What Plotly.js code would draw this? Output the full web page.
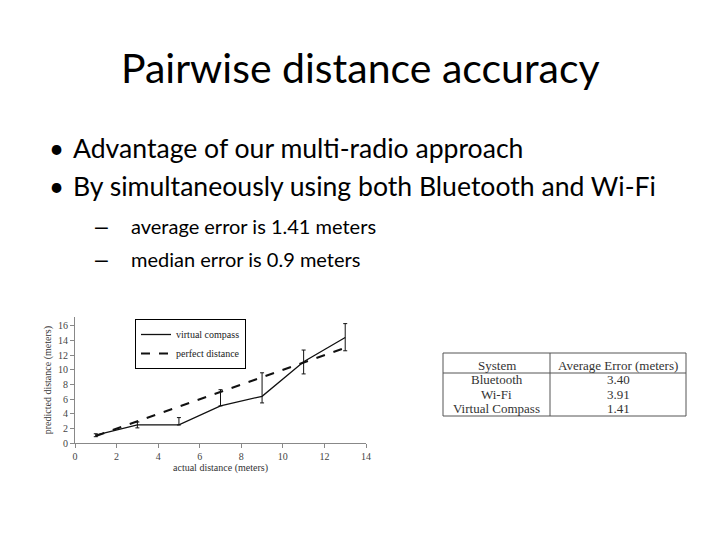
<!DOCTYPE html>
<html>
<head>
<meta charset="utf-8">
<script src="https://cdn.plot.ly/plotly-3.0.1.min.js"></script>
<style>
  html, body { margin: 0; padding: 0; background: #fff; }
  #slide { width: 720px; height: 540px; }
</style>
</head>
<body>
<div id="slide"></div>
<script>
// chart data
var actualDist = [1, 3, 5, 7, 9, 11, 13];
var compassDist = [1.1, 2.5, 2.5, 5.1, 6.4, 11.1, 14.4];
var errPlus = [0.2, 0.4, 1.0, 2.2, 3.2, 1.6, 1.9];
var errMinus = [0.2, 0.4, 0, 0, 0.9, 1.65, 1.8];
var perfectDist = [1, 3, 5, 7, 9, 11, 13];

// table
var tableHeader = ["System", "Average Error (meters)"];
var systems = ["Bluetooth", "Wi-Fi", "Virtual Compass"];
var avgErrors = [3.40, 3.91, 1.41];

var titleText = "Pairwise distance accuracy";
var bullets = ["Advantage of our multi-radio approach",
               "By simultaneously using both Bluetooth and Wi-Fi"];
var subBullets = ["average error is 1.41 meters", "median error is 0.9 meters"];

var W = 720, H = 540;
function px(x) { return x / W; }
function py(y) { return 1 - y / H; }

var textFont = "Lato, 'Open Sans', sans-serif";
var serif = "'Liberation Serif', 'DejaVu Serif', serif";

var compass = {
  x: actualDist, y: compassDist,
  type: "scatter", mode: "lines", name: "virtual compass",
  line: {color: "#111", width: 1.3},
  error_y: {type: "data", symmetric: false, array: errPlus, arrayminus: errMinus,
            color: "#111", thickness: 1, width: 2},
  xaxis: "x", yaxis: "y"
};
var perfect = {
  x: actualDist, y: perfectDist,
  type: "scatter", mode: "lines", name: "perfect distance",
  line: {color: "#111", width: 2, dash: "dash"},
  xaxis: "x", yaxis: "y"
};

function note(text, x, y, anchor, size, family, color) {
  return {text: text, x: x, y: y, xref: "paper", yref: "paper",
          xanchor: anchor, yanchor: "middle", showarrow: false,
          font: {family: family, size: size, color: color || "#000"}};
}

var annotations = [note(titleText, 0.5, py(68), "center", 41, textFont)];
var bulletY = [148, 186];
bullets.forEach(function(b, i) {
  annotations.push(note("\u2022", px(47), py(bulletY[i]), "left", 26, textFont));
  annotations.push(note(b, px(71), py(bulletY[i]), "left", 26.6, textFont));
});
var subY = [226, 259];
subBullets.forEach(function(b, i) {
  annotations.push(note("\u2013", px(93), py(subY[i]), "left", 23, "'Liberation Sans', sans-serif"));
  annotations.push(note(b, px(129), py(subY[i]), "left", 20, textFont));
});

// table text, built from the arrays
var tabLeft = 443, tabMid = 550, tabRight = 686, tabTop = 353, headLine = 373, tabBottom = 416;
var colX = [(tabLeft + tabMid) / 2, (tabMid + tabRight) / 2];
var rowY = [365, 379.5, 394, 408];
var tabFont = "'Liberation Serif', 'DejaVu Serif', serif";
tableHeader.forEach(function(h, c) {
  annotations.push(note(h, px(colX[c]), py(rowY[0]), "center", 13, tabFont, "#333"));
});
systems.forEach(function(s, r) {
  annotations.push(note(s, px(colX[0]), py(rowY[r + 1]), "center", 13, tabFont, "#333"));
  annotations.push(note(avgErrors[r].toFixed(2), px(colX[1]), py(rowY[r + 1]), "center", 13, tabFont, "#333"));
});

var tableLine = {color: "#555", width: 1};
var shapes = [
  {type: "rect", xref: "paper", yref: "paper", x0: px(tabLeft), x1: px(tabRight), y0: py(tabBottom), y1: py(tabTop), line: tableLine},
  {type: "line", xref: "paper", yref: "paper", x0: px(tabLeft), x1: px(tabRight), y0: py(headLine), y1: py(headLine), line: tableLine},
  {type: "line", xref: "paper", yref: "paper", x0: px(tabMid), x1: px(tabMid), y0: py(tabBottom), y1: py(tabTop), line: tableLine}
];

var layout = {
  width: W, height: H,
  margin: {l: 0, r: 0, t: 0, b: 0},
  paper_bgcolor: "#fff", plot_bgcolor: "#fff",
  showlegend: true,
  legend: {x: px(135), y: py(319), xanchor: "left", yanchor: "top",
           bordercolor: "#000", borderwidth: 1, bgcolor: "#fff",
           font: {family: serif, size: 10, color: "#222"}, itemwidth: 30,
           tracegroupgap: 0},
  xaxis: {
    domain: [px(75), px(366)], range: [0, 14], dtick: 2,
    showgrid: false, zeroline: false, showline: true, linecolor: "#888",
    ticks: "outside", ticklen: 4, tickcolor: "#888",
    tickfont: {family: serif, size: 10, color: "#444"},
    title: {text: "actual distance (meters)", standoff: 2,
            font: {family: serif, size: 10, color: "#333"}},
    anchor: "y"
  },
  yaxis: {
    domain: [py(443.3), py(317)], range: [0, 17.2], dtick: 2,
    showgrid: false, zeroline: false, showline: true, linecolor: "#888",
    ticks: "outside", ticklen: 4, tickcolor: "#888",
    tickfont: {family: serif, size: 10, color: "#444"},
    title: {text: "predicted distance (meters)", standoff: 4,
            font: {family: serif, size: 10, color: "#333"}},
    anchor: "x"
  },
  annotations: annotations,
  shapes: shapes
};

Plotly.newPlot("slide", [compass, perfect], layout, {staticPlot: true});
</script>
</body>
</html>
